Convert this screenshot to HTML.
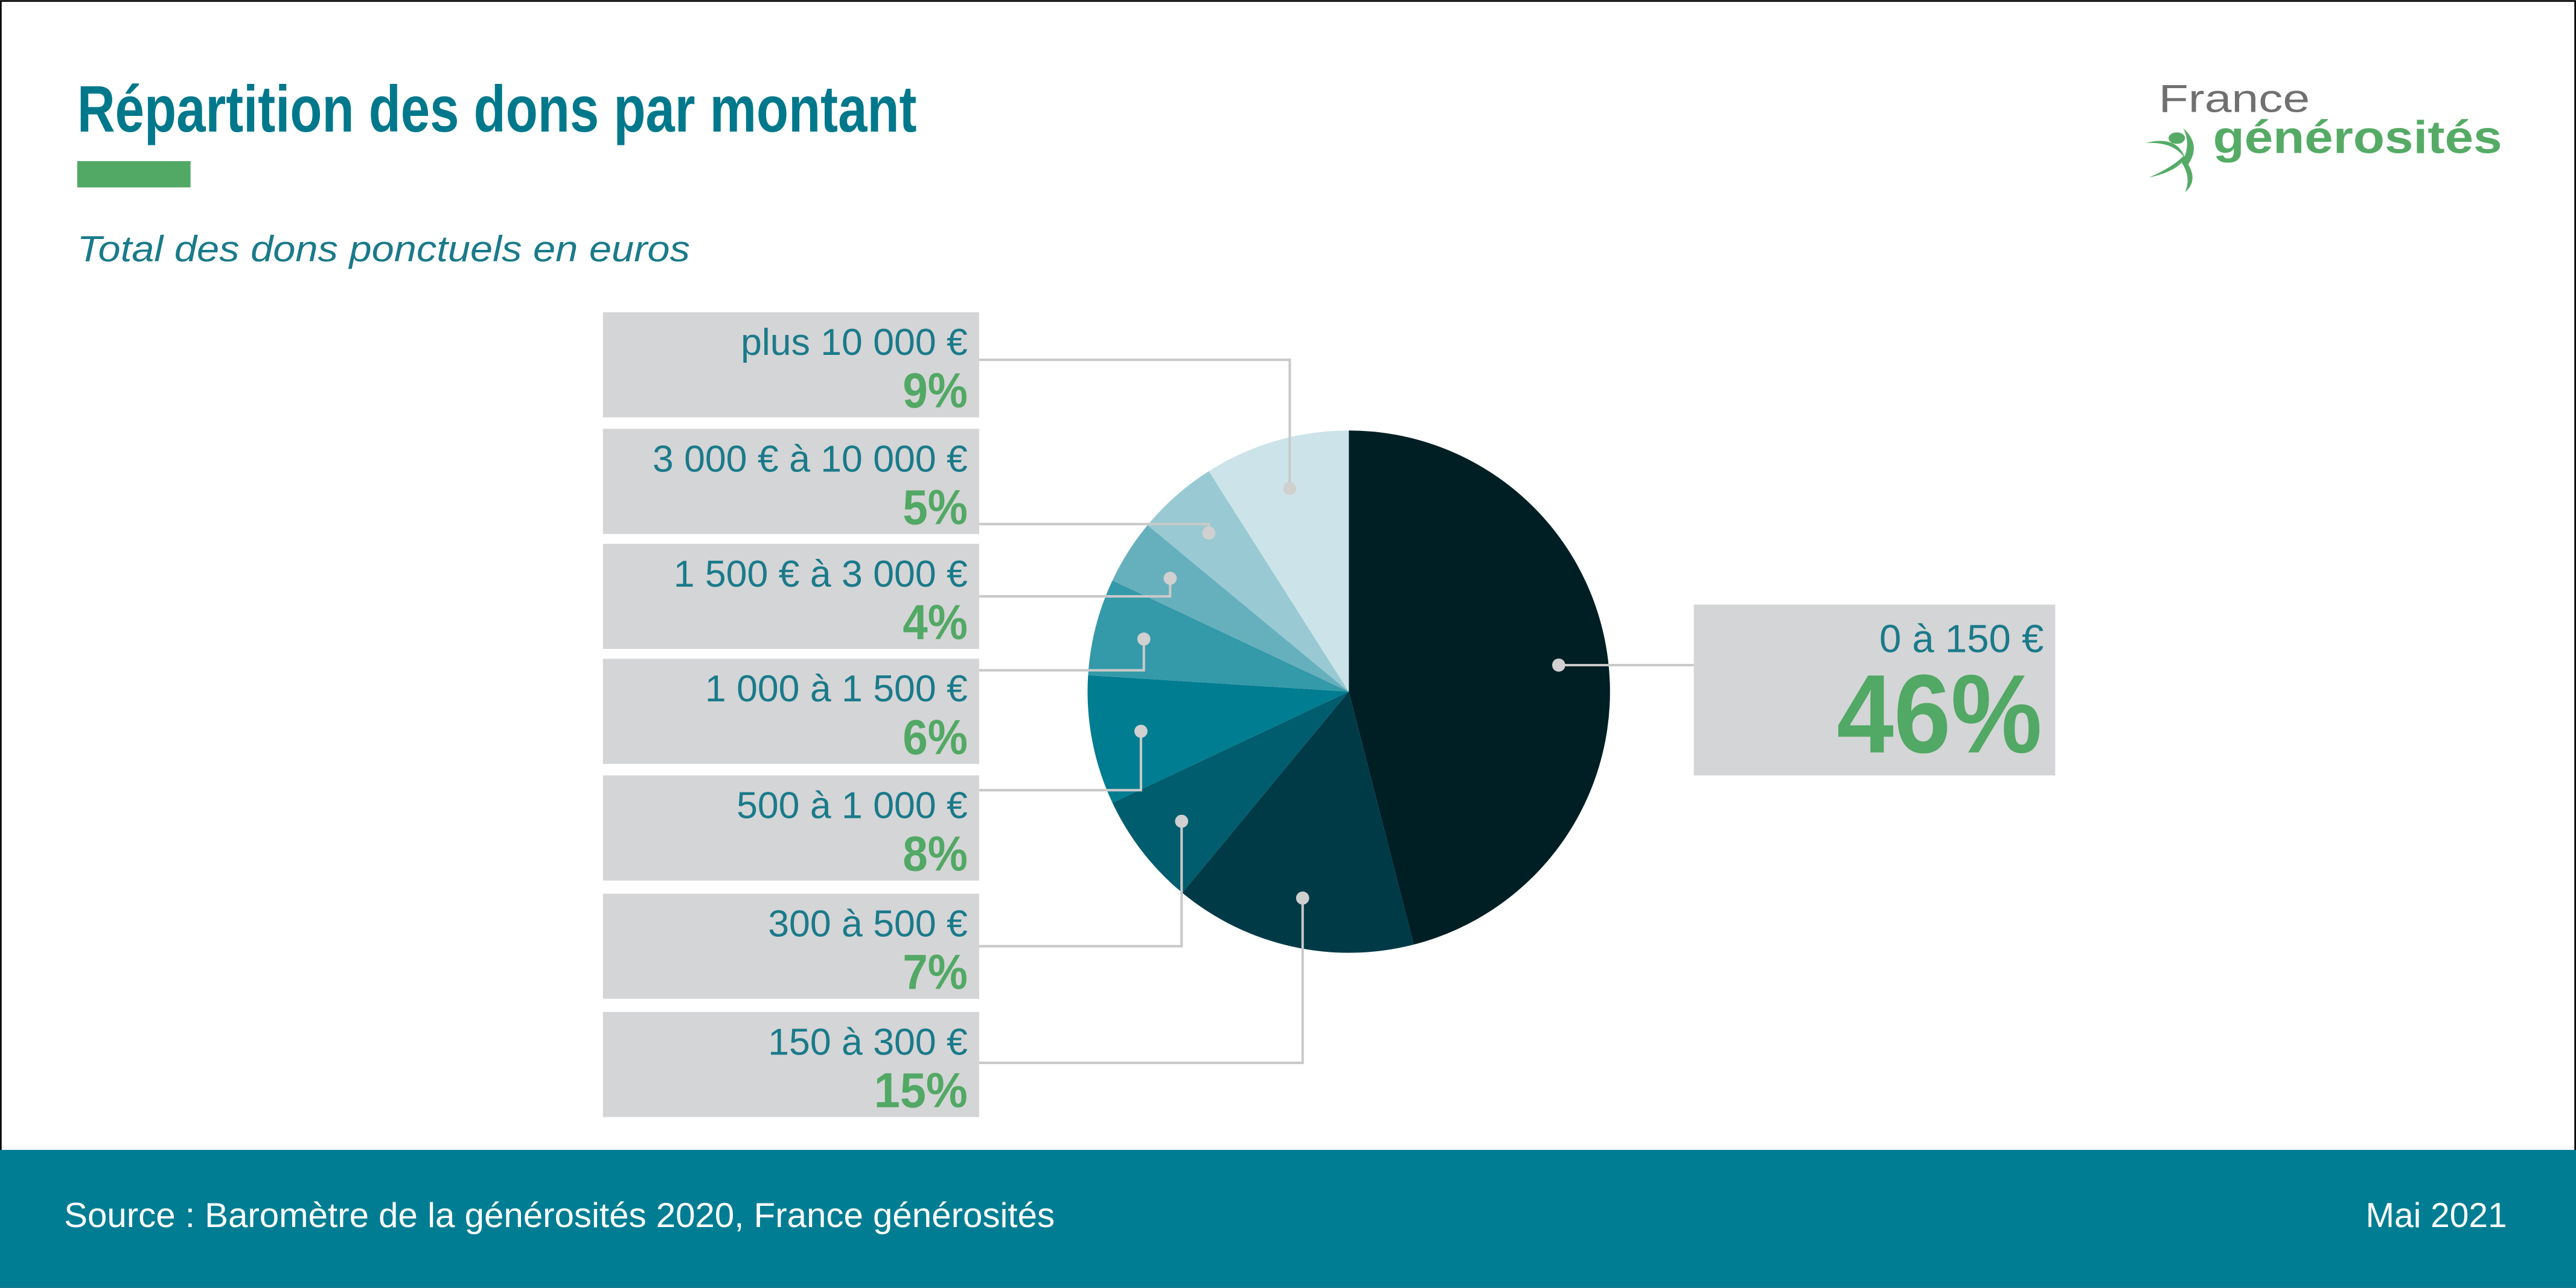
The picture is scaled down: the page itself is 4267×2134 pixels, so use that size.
<!DOCTYPE html>
<html><head><meta charset="utf-8">
<style>
html,body{margin:0;padding:0;background:#fff;}
svg{display:block;}
</style></head>
<body>
<svg id="chart" width="4267" height="2134" viewBox="0 0 1568 784" xmlns="http://www.w3.org/2000/svg">
<rect x="0.5" y="0.5" width="1567" height="783" fill="#fff" stroke="#000" stroke-width="1"/>
<text x="47" y="80" textLength="511" lengthAdjust="spacingAndGlyphs" font-family="'Liberation Sans',sans-serif" font-weight="bold" font-size="40" fill="#00788c">Répartition des dons par montant</text>
<rect x="47" y="98" width="69" height="16" fill="#52a865"/>
<text x="47" y="159" textLength="373" lengthAdjust="spacingAndGlyphs" font-family="'Liberation Sans',sans-serif" font-style="italic" font-size="22" fill="#1a7a8a">Total des dons ponctuels en euros</text>
<g>
<text x="1314" y="68" textLength="92" lengthAdjust="spacingAndGlyphs" font-family="'Liberation Sans',sans-serif" font-size="24" fill="#707070">France</text>
<text x="1347" y="93" textLength="176" lengthAdjust="spacingAndGlyphs" font-family="'Liberation Sans',sans-serif" font-weight="bold" font-size="28" fill="#55ab66">générosités</text>
<ellipse cx="1325" cy="84" rx="5" ry="3.5" fill="#55ab66"/>
<path d="M1306,87 Q1325,82 1330,96 Q1326,104 1308,108 Q1322,102 1329,95 Q1322,86 1306,87Z" fill="#55ab66"/>
<path d="M1329,78 Q1340,88 1332,100 Q1338,110 1330,117 Q1334,108 1328,99 Q1334,88 1329,78Z" fill="#55ab66"/>
</g>
<g id="pie"></g>
<g id="labels"></g>
<rect x="0" y="700" width="1568" height="84" fill="#007d93"/>
<text x="39" y="747" textLength="603" lengthAdjust="spacingAndGlyphs" font-family="'Liberation Sans',sans-serif" font-size="21" fill="#fff">Source : Baromètre de la générosités 2020, France générosités</text>
<text x="1440" y="747" textLength="86" lengthAdjust="spacingAndGlyphs" font-family="'Liberation Sans',sans-serif" font-size="21" fill="#fff">Mai 2021</text>
</svg>
<script>
const categories = ["0 à 150 €","150 à 300 €","300 à 500 €","500 à 1 000 €","1 000 à 1 500 €","1 500 € à 3 000 €","3 000 € à 10 000 €","plus 10 000 €"];
const values = [46,15,7,8,6,4,5,9];
const colors = ["#001f24","#003a47","#005d6e","#007d90","#3499a9","#66b0be","#99cad3","#cce4e9"];
const NS="http://www.w3.org/2000/svg";
const cx=821, cy=421, R=159;
const pie=document.getElementById('pie'), lab=document.getElementById('labels');
const total=values.reduce((a,b)=>a+b,0);
function pt(a,r){return [cx+r*Math.sin(a), cy-r*Math.cos(a)];}
function mk(tag,attrs,parent){const e=document.createElementNS(NS,tag);for(const k in attrs)e.setAttribute(k,attrs[k]);parent.appendChild(e);return e;}
const leftOrder=[7,6,5,4,3,2,1];
const boxTop=[190,261,331,401,472,544,616];
const lineY=[219,319,363,408,481,576,647];
let acc=0; const dots=[];
values.forEach((v,i)=>{
  const a0=acc/total*2*Math.PI; acc+=v; const a1=acc/total*2*Math.PI;
  const p0=pt(a0,R), p1=pt(a1,R);
  const large=(a1-a0)>Math.PI?1:0;
  const p=mk('path',{d:`M${cx},${cy}L${p0[0]},${p0[1]}A${R},${R} 0 ${large} 1 ${p1[0]},${p1[1]}Z`,fill:colors[i]},pie);
  
  
  dots.push(pt((a0+a1)/2,R*0.81));
});
const lineCol="#c9c9c9";
function pctWidth(v,digitW,pctW){return String(v).length*digitW+pctW;}
{
  const d=dots[0];
  const l=mk('line',{x1:d[0],y1:d[1],x2:1031,y2:d[1],stroke:lineCol,'stroke-width':1.5},lab);
  
  
  const b=mk('rect',{x:1031,y:368,width:220,height:104,fill:'#d4d5d6'},lab);
  
  
  const t=mk('text',{x:1244,y:397,'text-anchor':'end','font-family':"'Liberation Sans',sans-serif",'font-size':24,fill:'#1a7a8a'},lab);
  t.textContent=categories[0];
  
  
  const w=pctWidth(values[0],40,45);
  const pv=mk('text',{x:1243-w,y:458,textLength:w,lengthAdjust:'spacingAndGlyphs','font-family':"'Liberation Sans',sans-serif",'font-weight':'bold','font-size':68,fill:'#52a865'},lab);
  pv.textContent=values[0]+'%';
  
  
}
leftOrder.forEach((ci,k)=>{
  const top=boxTop[k]; const d=dots[ci]; const ly=lineY[k];
  const pl=mk('polyline',{points:`596,${ly} ${d[0]},${ly} ${d[0]},${d[1]}`,fill:'none',stroke:lineCol,'stroke-width':1.5},lab);
  
  
  const b=mk('rect',{x:367,y:top,width:229,height:64,fill:'#d4d5d6'},lab);
  
  
  const t=mk('text',{x:589,y:top+26,'text-anchor':'end','font-family':"'Liberation Sans',sans-serif",'font-size':23,fill:'#1a7a8a'},lab);
  t.textContent=categories[ci];
  
  
  const w=pctWidth(values[ci],17.5,22);
  const pv=mk('text',{x:589-w,y:top+58,textLength:w,lengthAdjust:'spacingAndGlyphs','font-family':"'Liberation Sans',sans-serif",'font-weight':'bold','font-size':30,fill:'#52a865'},lab);
  pv.textContent=values[ci]+'%';
  
  
});
dots.forEach((d,i)=>{
  const c=mk('circle',{cx:d[0],cy:d[1],r:4,fill:'#d0d0d0'},lab);
  
  
});
</script>
</body></html>
